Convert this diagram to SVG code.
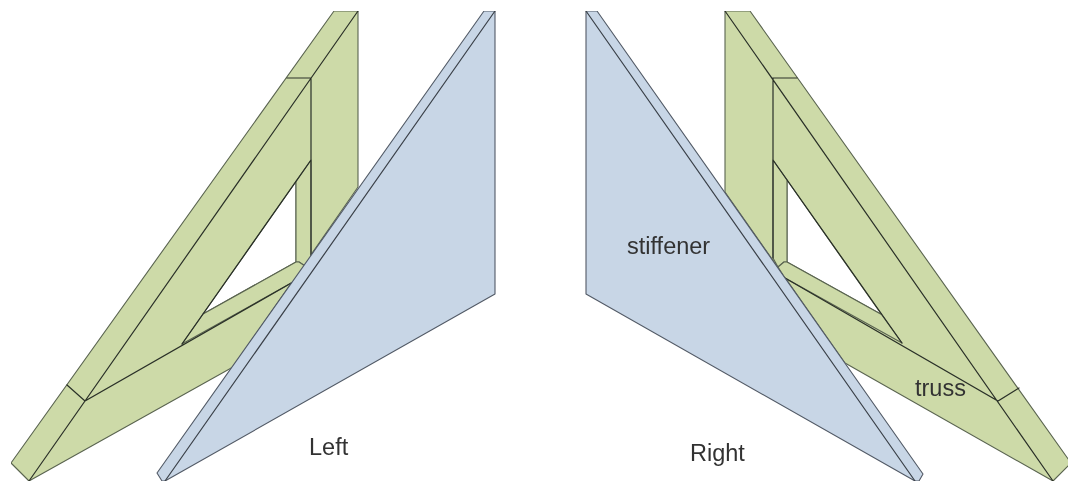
<svg xmlns="http://www.w3.org/2000/svg" width="1068" height="482" viewBox="0 0 1068 482">
<defs><filter id="soft" x="0" y="0" width="100%" height="100%"><feGaussianBlur stdDeviation="0.45"/></filter></defs>
<style>
.truss{fill:#cddaa8;stroke:#5a6450;stroke-width:1.1;stroke-linejoin:round}
.plate{fill:#c8d6e6;stroke:#525a66;stroke-width:1.1;stroke-linejoin:round}
.edge{fill:none;stroke:#2a3028;stroke-width:1.2;stroke-linecap:round}
.plateedge{fill:none;stroke:#3a4048;stroke-width:1.2;stroke-linecap:round}
text{font-family:"Liberation Sans",Arial,sans-serif;font-size:23.5px;fill:#333}
</style>
<rect width="1068" height="482" fill="#fff"/>
<g filter="url(#soft)">
<g id="left-truss">
<path class="truss" d="M29 481L11 463L334 11H358V187L233 367ZM296 181.4L203 314L296 262Z" fill-rule="evenodd"/>
<path class="truss" d="M296 181.4L311 160V258L305 266L299 262H296Z"/>
<path class="truss" d="M203 314L296 262H299L305 266L293 282L182 344Z"/>
<path class="edge" d="M29 481L358 11M67 385L85 401L293 282M287 78H311V256M311 160L182 344"/>
</g>
<g id="left-stiffener">
<path class="plate" d="M484 11H495V294L165 481H162L157 473Z"/>
<path class="plateedge" d="M165 481L495 11"/>
</g>
<g id="right-truss">
<path class="truss" d="M1053 481L1071 463L750 11H725V192L845 363ZM787 180L881.5 314.5L787 262Z" fill-rule="evenodd"/>
<path class="truss" d="M787 180L773 160V258L778 267L784 262H787Z"/>
<path class="truss" d="M881.5 314.5L787 262H784L778 267L785 278L902 343Z"/>
<path class="edge" d="M1053 481L725 11M1019 388L998 401L785 278M797 78H773V258M773 160L902 343"/>
</g>
<g id="right-stiffener">
<path class="plate" d="M597 11H586V294L915 481H919L923 474Z"/>
<path class="plateedge" d="M915 481L586 11"/>
</g>
<g id="labels">
<text x="309" y="455">Left</text>
<text x="690" y="461">Right</text>
<text x="627" y="254">stiffener</text>
<text x="915" y="396">truss</text>
</g>
</g>
</svg>
